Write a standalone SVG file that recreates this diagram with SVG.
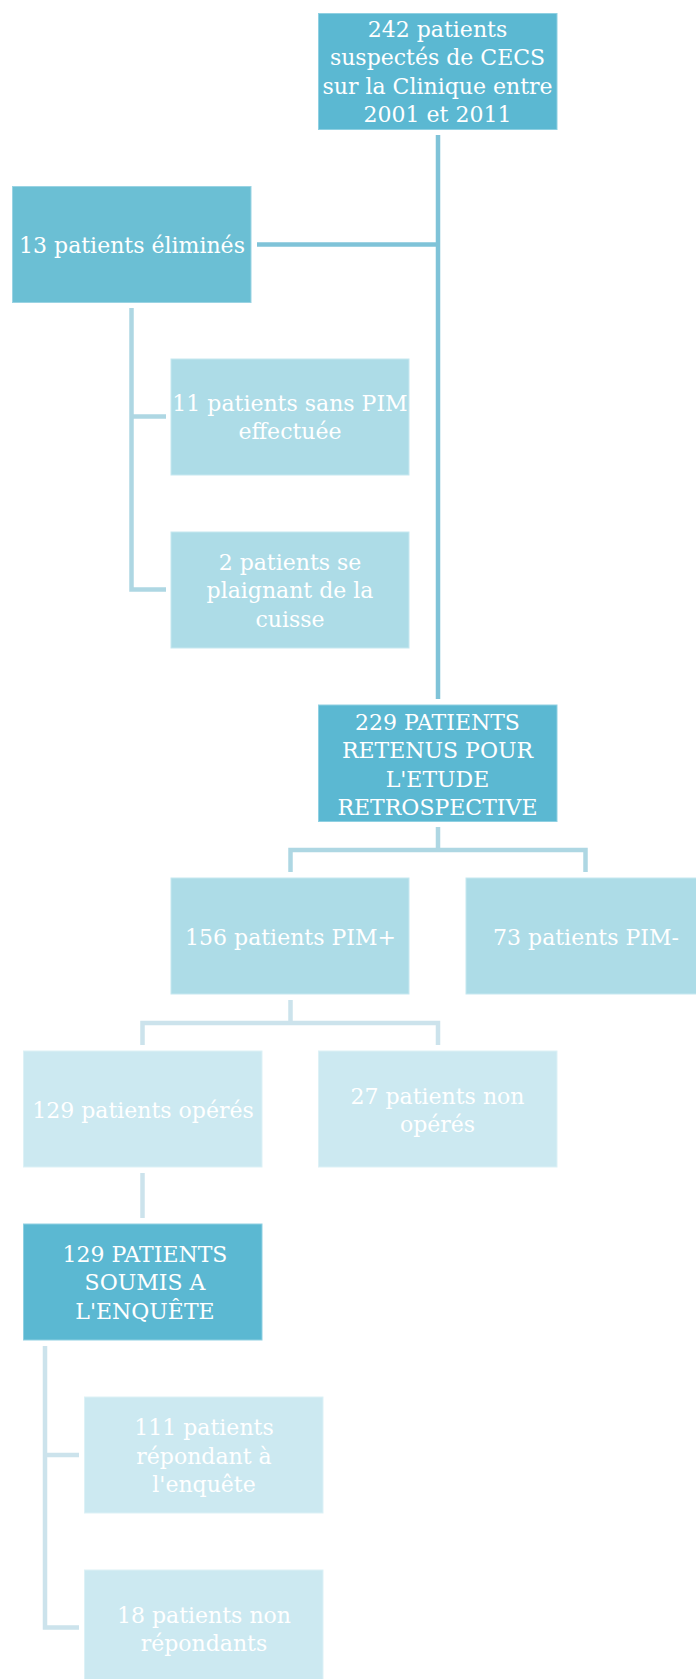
<svg xmlns="http://www.w3.org/2000/svg" width="696" height="1679" viewBox="0 0 696 1679">
<style>
.t{font-family:"DejaVu Serif","Liberation Serif",serif;font-size:22px;fill:#ffffff;text-anchor:middle}
.dark{fill:#5BB8D2;stroke:#8FD0E2;stroke-width:1}
.mid{fill:#6BBFD4;stroke:#9AD3E3;stroke-width:1}
.l2{fill:#ADDCE7;stroke:#C6E8F0;stroke-width:1}
.l3{fill:#CCE9F1;stroke:#DDF1F6;stroke-width:1}
.c1{stroke:#7FC3D8;stroke-width:4.5;fill:none}
.c2{stroke:#AED7E3;stroke-width:4.5;fill:none}
.c3{stroke:#CCE3EC;stroke-width:4.5;fill:none}
</style>
<rect width="696" height="1679" fill="#ffffff"/>
<g id="connectors">
<path class="c1" d="M438 135 V699"/>
<path class="c1" d="M257 244.5 H438"/>
<path class="c2" d="M131.5 308 V589.5 H166 M131.5 416.5 H166"/>
<path class="c2" d="M438 827 V850 M290.5 872 V850 H585.5 V872"/>
<path class="c3" d="M290.5 1000 V1023 M142.5 1045 V1023 H438 V1045"/>
<path class="c3" d="M142.5 1173 V1218"/>
<path class="c3" d="M45 1346 V1627.5 H79 M45 1455 H79"/>
</g>
<g id="n242"><rect class="dark" x="318.5" y="13.5" width="238.5" height="116"/>
<text class="t"><tspan x="437.5" y="36.5">242 patients</tspan><tspan x="437.5" y="65">suspectés de CECS</tspan><tspan x="437.5" y="93.5">sur la Clinique entre</tspan><tspan x="437.5" y="122">2001 et 2011</tspan></text></g>
<g id="n13"><rect class="mid" x="12.5" y="186.5" width="238.5" height="116"/>
<text class="t" x="132" y="253">13 patients éliminés</text></g>
<g id="n11"><rect class="l2" x="171" y="359" width="238" height="116"/>
<text class="t"><tspan x="290" y="411">11 patients sans PIM</tspan><tspan x="290" y="439">effectuée</tspan></text></g>
<g id="n2"><rect class="l2" x="171" y="532" width="238" height="116"/>
<text class="t"><tspan x="290" y="569.5">2 patients se</tspan><tspan x="290" y="598">plaignant de la</tspan><tspan x="290" y="626.5">cuisse</tspan></text></g>
<g id="n229"><rect class="dark" x="318.5" y="705" width="238.5" height="116.5"/>
<text class="t"><tspan x="437.5" y="729.5">229 PATIENTS</tspan><tspan x="437.5" y="758">RETENUS POUR</tspan><tspan x="437.5" y="786.5">L'ETUDE</tspan><tspan x="437.5" y="815">RETROSPECTIVE</tspan></text></g>
<g id="n156"><rect class="l2" x="171" y="878" width="238" height="116"/>
<text class="t" x="290.5" y="945">156 patients PIM+</text></g>
<g id="n73"><rect class="l2" x="466" y="878" width="238" height="116"/>
<text class="t" x="586" y="945">73 patients PIM-</text></g>
<g id="n129op"><rect class="l3" x="23.5" y="1051" width="238.5" height="116"/>
<text class="t" x="143" y="1118">129 patients opérés</text></g>
<g id="n27"><rect class="l3" x="318.5" y="1051" width="238.5" height="116"/>
<text class="t"><tspan x="437.5" y="1104">27 patients non</tspan><tspan x="437.5" y="1132">opérés</tspan></text></g>
<g id="n129s"><rect class="dark" x="23.5" y="1224" width="238.5" height="116"/>
<text class="t"><tspan x="145" y="1261.5">129 PATIENTS</tspan><tspan x="145" y="1290">SOUMIS A</tspan><tspan x="145" y="1318.5">L'ENQUÊTE</tspan></text></g>
<g id="n111"><rect class="l3" x="84.5" y="1397" width="238.5" height="116"/>
<text class="t"><tspan x="204" y="1435">111 patients</tspan><tspan x="204" y="1463.5">répondant à</tspan><tspan x="204" y="1492">l'enquête</tspan></text></g>
<g id="n18"><rect class="l3" x="84.5" y="1570" width="238.5" height="116"/>
<text class="t"><tspan x="204" y="1623">18 patients non</tspan><tspan x="204" y="1651">répondants</tspan></text></g>
</svg>
